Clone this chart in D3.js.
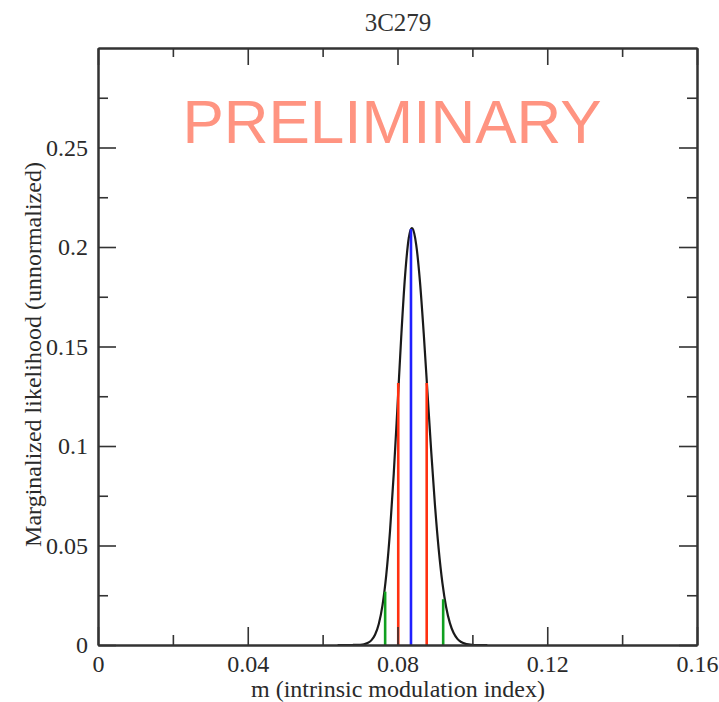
<!DOCTYPE html>
<html>
<head>
<meta charset="utf-8">
<script src="https://cdn.jsdelivr.net/npm/d3@7"></script>
<style>
  html, body { margin: 0; padding: 0; background: #fff; }
  svg { display: block; }
</style>
</head>
<body>
<svg id="chart" width="719" height="702"></svg>
<script>
// ---- data ----
const titleText = "3C279";
const xLabelText = "m (intrinsic modulation index)";
const yLabelText = "Marginalized likelihood (unnormalized)";
const watermarkText = "PRELIMINARY";

const xMajorTicks = [0, 0.04, 0.08, 0.12, 0.16];
const xTickLabels = ["0", "0.04", "0.08", "0.12", "0.16"];
const xMinorTicks = [0.02, 0.06, 0.10, 0.14];
const yMajorTicks = [0, 0.05, 0.10, 0.15, 0.20, 0.25];
const yTickLabels = ["0", "0.05", "0.1", "0.15", "0.2", "0.25"];
const yMinorTicks = [0.025, 0.075, 0.125, 0.175, 0.225, 0.275];

// likelihood curve samples
const curveM = [0.064, 0.065, 0.066, 0.067, 0.068, 0.069, 0.070, 0.071, 0.072, 0.073,
                0.074, 0.075, 0.076, 0.077, 0.078, 0.079, 0.080, 0.081, 0.082, 0.083,
                0.0838, 0.084, 0.085, 0.086, 0.087, 0.088, 0.089, 0.090, 0.091, 0.092,
                0.093, 0.094, 0.095, 0.096, 0.097, 0.098, 0.099, 0.100, 0.101, 0.102,
                0.103, 0.104];
const curveL = [0, 0, 0, 0, 0.00001, 0.00004, 0.00013, 0.00038, 0.00098, 0.00233,
                0.00515, 0.01056, 0.0200, 0.0352, 0.0572, 0.0861, 0.120, 0.155, 0.185, 0.2044,
                0.2095, 0.2093, 0.2011, 0.1826, 0.1567, 0.1271, 0.0974, 0.0705, 0.0482, 0.0311,
                0.0190, 0.0110, 0.0060, 0.0031, 0.0015, 0.0007, 0.0003, 0.0001, 0, 0,
                0, 0];

// vertical markers: mode (blue), 1-sigma (red), 2-sigma (green)
const markerM = [0.0836, 0.0802, 0.0878, 0.0767, 0.0922];
const markerL = [0.2090, 0.1317, 0.1317, 0.0268, 0.0230];
const markerKind = ["mode", "sigma1", "sigma1", "sigma2", "sigma2"];

// ---- drawing ----
const svg = d3.select("#chart");
const pLeft = 98, pRight = 697, pTop = 48, pBottom = 645;
const x = d3.scaleLinear().domain([0, 0.16]).range([pLeft, pRight]);
const y = d3.scaleLinear().domain([0, 0.3]).range([pBottom, pTop]);

const markerColor = { mode: "#2020ff", sigma1: "#ff3010", sigma2: "#10a020" };

// watermark
svg.append("text")
  .attr("x", 392).attr("y", 143)
  .attr("text-anchor", "middle")
  .attr("font-family", "'Liberation Sans', Arial, sans-serif")
  .attr("font-size", 62)
  .attr("fill", "#ff9481")
  .text(watermarkText);

// curve
const pts = curveM.map((m, i) => [m, curveL[i]]);
svg.append("path")
  .datum(pts)
  .attr("fill", "none")
  .attr("stroke", "#1a1a1a")
  .attr("stroke-width", 2.2)
  .attr("d", d3.line().x(d => x(d[0])).y(d => y(d[1])).curve(d3.curveMonotoneX));

// markers
svg.append("g").selectAll("line")
  .data(markerM.map((m, i) => ({ m, l: markerL[i], k: markerKind[i] })))
  .join("line")
  .attr("x1", d => x(d.m)).attr("x2", d => x(d.m))
  .attr("y1", y(0)).attr("y2", d => y(d.l))
  .attr("stroke", d => markerColor[d.k])
  .attr("stroke-width", 2.6);

// axes
const axisColor = "#333";
const fontSerif = "'Liberation Serif', 'Times New Roman', serif";
const labelSize = 24;
function styleAxis(g) {
  g.selectAll("path.domain").attr("stroke", axisColor).attr("stroke-width", 2);
  g.selectAll(".tick line").attr("stroke", axisColor).attr("stroke-width", 1.6);
  g.selectAll(".tick text").attr("fill", "#2a2a2a").attr("font-family", fontSerif).attr("font-size", labelSize);
}

// bottom
svg.append("g").attr("transform", `translate(0,${pBottom})`)
  .call(d3.axisBottom(x).tickValues(xMajorTicks).tickFormat((d, i) => xTickLabels[i]).tickSizeInner(-18).tickSizeOuter(0).tickPadding(10))
  .call(styleAxis);
svg.append("g").attr("transform", `translate(0,${pBottom})`)
  .call(d3.axisBottom(x).tickValues(xMinorTicks).tickFormat("").tickSizeInner(-10).tickSizeOuter(0))
  .call(styleAxis);
// top
svg.append("g").attr("transform", `translate(0,${pTop})`)
  .call(d3.axisTop(x).tickValues(xMajorTicks).tickFormat("").tickSizeInner(-17).tickSizeOuter(0))
  .call(styleAxis);
svg.append("g").attr("transform", `translate(0,${pTop})`)
  .call(d3.axisTop(x).tickValues(xMinorTicks).tickFormat("").tickSizeInner(-9).tickSizeOuter(0))
  .call(styleAxis);
// left
svg.append("g").attr("transform", `translate(${pLeft},0)`)
  .call(d3.axisLeft(y).tickValues(yMajorTicks).tickFormat((d, i) => yTickLabels[i]).tickSizeInner(-18).tickSizeOuter(0).tickPadding(10))
  .call(styleAxis);
svg.append("g").attr("transform", `translate(${pLeft},0)`)
  .call(d3.axisLeft(y).tickValues(yMinorTicks).tickFormat("").tickSizeInner(-10).tickSizeOuter(0))
  .call(styleAxis);
// right
svg.append("g").attr("transform", `translate(${pRight},0)`)
  .call(d3.axisRight(y).tickValues(yMajorTicks).tickFormat("").tickSizeInner(-18).tickSizeOuter(0))
  .call(styleAxis);
svg.append("g").attr("transform", `translate(${pRight},0)`)
  .call(d3.axisRight(y).tickValues(yMinorTicks).tickFormat("").tickSizeInner(-10).tickSizeOuter(0))
  .call(styleAxis);

// title
svg.append("text")
  .attr("x", 398).attr("y", 31)
  .attr("text-anchor", "middle")
  .attr("font-family", fontSerif).attr("font-size", 25)
  .attr("fill", "#333")
  .text(titleText);

// x label
svg.append("text")
  .attr("x", 398).attr("y", 697)
  .attr("text-anchor", "middle")
  .attr("font-family", fontSerif).attr("font-size", labelSize)
  .attr("fill", "#2a2a2a")
  .text(xLabelText);

// y label
svg.append("text")
  .attr("transform", `translate(41,${(pTop + pBottom) / 2 + 8}) rotate(-90)`)
  .attr("text-anchor", "middle")
  .attr("font-family", fontSerif).attr("font-size", labelSize)
  .attr("fill", "#2a2a2a")
  .text(yLabelText);
</script>
</body>
</html>
